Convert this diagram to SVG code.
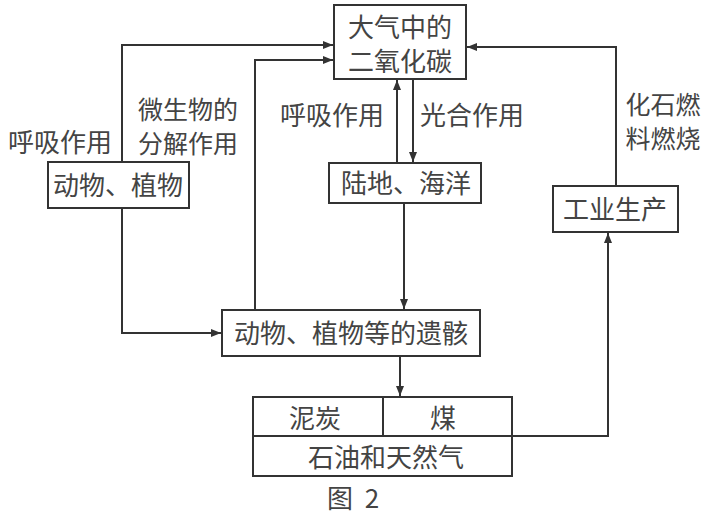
<svg xmlns="http://www.w3.org/2000/svg" width="709" height="518" viewBox="0 0 709 518">
<style>
.box{fill:none;stroke:#333;stroke-width:2}
.ln{fill:none;stroke:#333;stroke-width:2}
text{font-family:"Noto Sans CJK SC","Liberation Sans",sans-serif;font-size:26px;fill:#444;text-anchor:middle}
.sm{font-size:25px}
</style>
<defs>
<marker id="ah" viewBox="0 0 10 8" refX="10" refY="4" markerWidth="10" markerHeight="8" markerUnits="userSpaceOnUse" orient="auto">
<path d="M0,0 L10,4 L0,8 Z" fill="#333"/>
</marker>
</defs>
<rect width="709" height="518" fill="#fff"/>
<g id="connectors">
<polyline class="ln" points="122,162 122,45 333,45" marker-end="url(#ah)"/>
<polyline class="ln" points="255,310 255,60 333,60" marker-end="url(#ah)"/>
<polyline class="ln" points="122,208 122,333 221,333" marker-end="url(#ah)"/>
<line class="ln" x1="397" y1="163" x2="397" y2="80" marker-end="url(#ah)"/>
<line class="ln" x1="413" y1="79" x2="413" y2="162" marker-end="url(#ah)"/>
<line class="ln" x1="404" y1="203" x2="404" y2="309" marker-end="url(#ah)"/>
<line class="ln" x1="400" y1="356" x2="400" y2="396" marker-end="url(#ah)"/>
<polyline class="ln" points="616,186 616,47 467,47" marker-end="url(#ah)"/>
<polyline class="ln" points="512,436 608,436 608,233" marker-end="url(#ah)"/>
</g>
<g id="labels">
<text x="60" y="152">呼吸作用</text>
<text class="sm" x="188" y="119">微生物的<tspan x="188" y="153">分解作用</tspan></text>
<text x="332" y="125">呼吸作用</text>
<text x="472" y="125">光合作用</text>
<text class="sm" x="663" y="114">化石燃<tspan x="663" y="148">料燃烧</tspan></text>
</g>
<g id="co2">
<rect class="box" x="334" y="5" width="132" height="74"/>
<text x="400" y="37">大气中的<tspan x="400" y="71">二氧化碳</tspan></text>
</g>
<g id="animals">
<rect class="box" x="48" y="162" width="141" height="46"/>
<text x="118" y="195">动物、植物</text>
</g>
<g id="land">
<rect class="box" x="329" y="163" width="152" height="40"/>
<text x="406" y="193">陆地、海洋</text>
</g>
<g id="industry">
<rect class="box" x="553" y="186" width="125" height="46"/>
<text x="615" y="219">工业生产</text>
</g>
<g id="remains">
<rect class="box" x="222" y="310" width="258" height="46"/>
<text x="351" y="343">动物、植物等的遗骸</text>
</g>
<g id="fossil">
<rect class="box" x="253" y="397" width="259" height="79"/>
<line class="ln" x1="253" y1="436" x2="512" y2="436"/>
<line class="ln" x1="383" y1="397" x2="383" y2="436"/>
<text x="315" y="428">泥炭</text>
<text x="443" y="428">煤</text>
<text x="386" y="467">石油和天然气</text>
</g>
<text x="327" y="508" style="text-anchor:start">图 <tspan dx="6">2</tspan></text>
</svg>
